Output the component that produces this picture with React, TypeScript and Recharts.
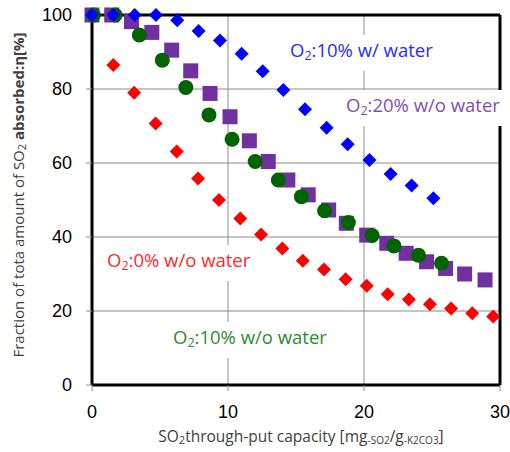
import React from 'react';
import { ScatterChart, Scatter, XAxis, YAxis, CartesianGrid, ReferenceLine } from 'recharts';

// O2:10% w/ water
const blueX = [0, 1.57, 3.14, 4.7, 6.27, 7.84, 9.41, 11.0, 12.55, 14.07, 15.66, 17.25, 18.8, 20.4, 21.96, 23.5, 25.1];
const blueY = [100, 100, 100, 100, 98.6, 95.7, 93.1, 89.5, 84.8, 79.7, 74.5, 69.5, 65.1, 60.8, 57.0, 53.9, 50.5];

// O2:0% w/o water
const redX = [0, 1.57, 3.1, 4.68, 6.23, 7.8, 9.34, 10.9, 12.43, 14.0, 15.5, 17.06, 18.65, 20.2, 21.74, 23.3, 24.85, 26.4, 27.96, 29.5];
const redY = [100, 86.5, 79.0, 70.7, 63.1, 55.8, 50.0, 45.0, 40.7, 36.9, 33.6, 31.2, 28.6, 26.8, 24.5, 23.1, 21.8, 20.7, 19.4, 18.5];

// O2:20% w/o water
const purpleX = [0, 1.45, 2.9, 4.4, 5.86, 7.26, 8.68, 10.15, 11.57, 12.96, 14.4, 15.9, 17.4, 18.7, 20.2, 21.67, 23.1, 24.6, 26.0, 27.4, 28.9];
const purpleY = [100, 100, 98.2, 95.3, 90.5, 84.9, 78.8, 72.5, 66.0, 60.4, 55.4, 51.4, 47.3, 43.7, 40.5, 38.3, 35.6, 33.3, 31.5, 30.0, 28.4];

// O2:10% w/o water
const greenX = [0.1, 1.7, 3.48, 5.17, 6.9, 8.6, 10.3, 12.0, 13.7, 15.4, 17.1, 18.85, 20.6, 22.2, 24.0, 25.7];
const greenY = [100, 100, 94.6, 87.8, 80.4, 73.0, 66.4, 60.4, 55.4, 50.9, 47.1, 43.9, 40.4, 37.6, 35.1, 32.9];

const xTicks = [0, 10, 20, 30];
const yTicks = [0, 20, 40, 60, 80, 100];

const toPoints = (xs: number[], ys: number[]) => xs.map((x, i) => ({ x, y: ys[i] }));

const diamond = (color: string, r: number) => (p: any) => (
  <polygon points={`${p.cx},${p.cy - r} ${p.cx + r},${p.cy} ${p.cx},${p.cy + r} ${p.cx - r},${p.cy}`} fill={color} />
);
const square = (color: string, h: number) => (p: any) => (
  <rect x={p.cx - h} y={p.cy - h} width={h * 2} height={h * 2} fill={color} />
);
const circle = (color: string, r: number) => (p: any) => <circle cx={p.cx} cy={p.cy} r={r} fill={color} />;

const labelFont = '"Open Sans", sans-serif';

const SeriesLabel = ({ left, top, color, text }: { left: number; top: number; color: string; text: string }) => (
  <div
    style={{
      position: 'absolute',
      left,
      top,
      background: '#fff',
      color,
      fontFamily: labelFont,
      fontSize: 18.5,
      lineHeight: '22px',
      padding: '4px 6px',
      whiteSpace: 'nowrap',
    }}
  >
    O<sub style={{ fontSize: 12.5, verticalAlign: '-3px' }}>2</sub>
    {text}
  </div>
);

export default function App() {
  return (
    <div style={{ position: 'absolute', left: 0, top: 0, width: 510, height: 452, background: '#fff', overflow: 'hidden' }}>
      <ScatterChart width={510} height={452} margin={{ top: 15, right: 10, left: 0, bottom: 0 }}>
        <CartesianGrid stroke="#8c8c8c" strokeWidth={1} />
        <XAxis
          type="number"
          dataKey="x"
          domain={[0, 30]}
          ticks={xTicks}
          height={67}
          axisLine={{ stroke: '#000', strokeWidth: 3 }}
          tickLine={{ stroke: '#8c8c8c' }}
          tickSize={6}
          tickMargin={14}
          tick={{ fill: '#000', fontSize: 18, fontFamily: '"Liberation Sans", Arial, sans-serif' }}
        />
        <YAxis
          type="number"
          dataKey="y"
          domain={[0, 100]}
          ticks={yTicks}
          width={92}
          axisLine={{ stroke: '#000', strokeWidth: 3 }}
          tickLine={{ stroke: '#8c8c8c' }}
          tickSize={6}
          tickMargin={14}
          tick={{ fill: '#000', fontSize: 18, fontFamily: '"Liberation Sans", Arial, sans-serif' }}
        />
        <ReferenceLine y={100} stroke="#000" strokeWidth={3} />
        <ReferenceLine x={30} stroke="#000" strokeWidth={3} />
        <Scatter data={toPoints(redX, redY)} shape={diamond('#ff0000', 7)} isAnimationActive={false} />
        <Scatter data={toPoints(purpleX, purpleY)} shape={square('#7030a0', 7.5)} isAnimationActive={false} />
        <Scatter data={toPoints(greenX, greenY)} shape={circle('#006400', 7.5)} isAnimationActive={false} />
        <Scatter data={toPoints(blueX, blueY)} shape={diamond('#0000ff', 7)} isAnimationActive={false} />
      </ScatterChart>

      <SeriesLabel left={284} top={35} color="#2a2aff" text=":10% w/ water" />
      <SeriesLabel left={340} top={90} color="#7f4fb0" text=":20% w/o water" />
      <SeriesLabel left={101} top={245} color="#ff2a2a" text=":0% w/o water" />
      <SeriesLabel left={167} top={322} color="#2e8b2e" text=":10% w/o water" />

      <div
        style={{
          position: 'absolute',
          left: 18 - 190,
          top: 195 - 10,
          width: 380,
          height: 20,
          lineHeight: '20px',
          textAlign: 'center',
          transform: 'rotate(-90deg)',
          fontFamily: labelFont,
          fontSize: 15,
          color: '#404040',
          whiteSpace: 'nowrap',
        }}
      >
        Fraction of tota amount of SO<sub style={{ fontSize: 11, verticalAlign: '-2px' }}>2</sub>{' '}
        <b>absorbed:η[%]</b>
      </div>

      <div
        style={{
          position: 'absolute',
          left: 101,
          top: 426,
          width: 400,
          textAlign: 'center',
          fontFamily: labelFont,
          fontSize: 15.5,
          lineHeight: '20px',
          color: '#404040',
          whiteSpace: 'nowrap',
        }}
      >
        SO<sub style={{ fontSize: 11, verticalAlign: '-2px' }}>2</sub>through-put capacity [mg
        <sub style={{ fontSize: 10, verticalAlign: '-2px' }}>-SO2</sub>/g
        <sub style={{ fontSize: 10, verticalAlign: '-2px' }}>-K2CO3</sub>]
      </div>
    </div>
  );
}
